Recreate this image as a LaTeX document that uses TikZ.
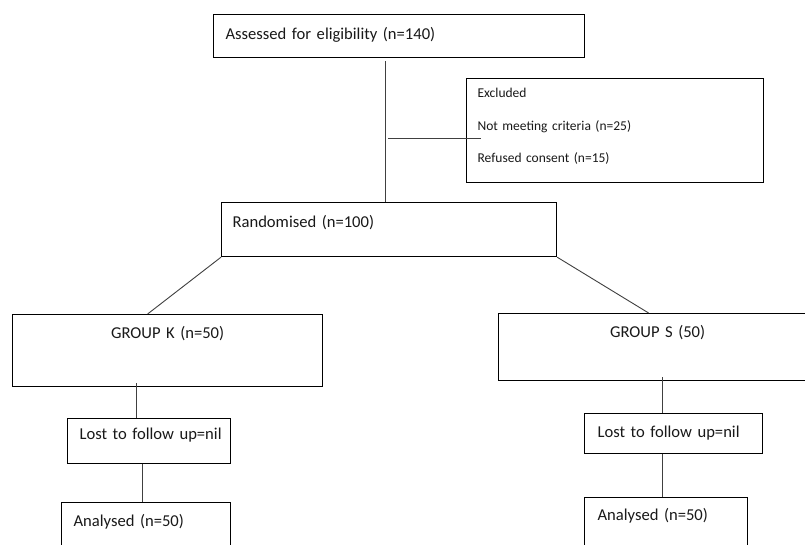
\documentclass[tikz,border=0pt]{standalone}
\usepackage{fontspec}
\setmainfont{Carlito}
\begin{document}
\begin{tikzpicture}[x=1pt,y=-1pt,
  box/.style={draw=black, line width=1.2pt, anchor=north west, inner xsep=0pt, inner ysep=0pt,
    align=left, text=black!90, font=\fontsize{16.6}{20}\selectfont},
  cbox/.style={box, align=center},
  lpad/.style={execute at begin node={\hspace*{#1}}},
  small/.style={font=\fontsize{13.5}{32.5}\selectfont},
  conn/.style={draw=black!75, line width=0.9pt}]
\fill[white] (0,0) rectangle (805,545);
\useasboundingbox (0,0) rectangle (805,545);
\clip (0,0) rectangle (805,545);

% boxes
\node[box, lpad=12pt, text width=371pt, text height=24.5pt, text depth=18.5pt] (assess) at (213,14)
  {Assessed for eligibility (n=140)};
\node[box, small, lpad=11pt, text width=297pt, text height=19pt, text depth=85pt] (excl) at (466,78)
  {Excluded\\\hspace*{11pt}Not meeting criteria (n=25)\\\hspace*{11pt}Refused consent (n=15)};
\node[box, lpad=11pt, text width=335pt, text height=25pt, text depth=29pt] (rand) at (221,202)
  {Randomised (n=100)};
\node[cbox, text width=310pt, text height=23.5pt, text depth=48.5pt] (gk) at (12,314)
  {GROUP K (n=50)};
\node[cbox, text width=318pt, text height=24.3pt, text depth=42.7pt] (gs) at (498,313)
  {GROUP S (50)};
\node[box, lpad=12pt, text width=163pt, text height=21pt, text depth=24pt] (lk) at (67,418)
  {Lost to follow up=nil};
\node[box, lpad=12pt, text width=169pt, text height=24pt, text depth=34pt] (ak) at (61,502)
  {Analysed (n=50)};
\node[box, lpad=13pt, text width=178pt, text height=24pt, text depth=16pt] (ls) at (584,413)
  {Lost to follow up=nil};
\node[box, lpad=13pt, text width=163pt, text height=23pt, text depth=40pt] (anS) at (584,497)
  {Analysed (n=50)};

% connector helpers
\coordinate (vx) at (385,0);
\coordinate (hs) at (388,138.5);
\coordinate (xk1) at (136,0);
\coordinate (xk2) at (142,0);
\coordinate (xs) at (662,0);

% connectors
\draw[conn] (assess.south -| vx) ++(0,3) -- (rand.north -| vx);
\draw[conn] (hs) -- (hs -| excl.west) -- ++(15,0);
\draw[conn] (rand.south west) -- ([xshift=-20pt]gk.north);
\draw[conn] (rand.south east) -- ([xshift=-9pt]gs.north);
\draw[conn] (gk.south -| xk1) ++(0,-4) -- (lk.north -| xk1);
\draw[conn] (lk.south -| xk2) -- (ak.north -| xk2);
\draw[conn] (gs.south -| xs) ++(0,-4) -- (ls.north -| xs);
\draw[conn] (ls.south -| xs) -- (anS.north -| xs);
\end{tikzpicture}
\end{document}
